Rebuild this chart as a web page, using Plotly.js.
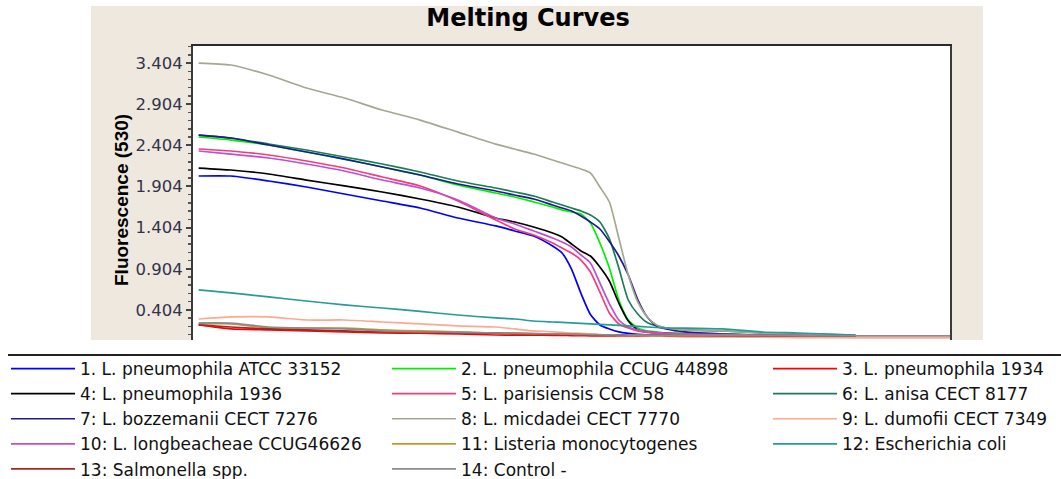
<!DOCTYPE html>
<html>
<head>
<meta charset="utf-8">
<script src="https://cdn.plot.ly/plotly-3.0.1.min.js"></script>
<style>
  html, body { margin: 0; padding: 0; background: #ffffff; }
  #chart { width: 1061px; height: 479px; }
</style>
</head>
<body>
<div id="chart"></div>
<script>
// Temperature steps of the melt (°C); the x axis itself is not labelled.
const temperature = [40.3, 42, 44, 46, 48, 50, 52, 54, 56, 57, 58, 59, 59.5, 60, 60.5, 61, 61.5, 62, 62.5, 63, 63.5, 64, 64.5, 65, 66, 68, 70, 72, 75, 80];

// Fluorescence (530) readings per sample
const pneumophilaATCC33152 = [2.031, 2.031, 1.970, 1.897, 1.812, 1.727, 1.642, 1.521, 1.424, 1.363, 1.302, 1.180, 1.095, 0.900, 0.604, 0.348, 0.221, 0.172, 0.136, 0.118, 0.106, 0.099, 0.099, 0.098, 0.097, 0.095, 0.092, 0.090, 0.087, null];
const pneumophilaCCUG44898 = [2.505, 2.468, 2.408, 2.323, 2.237, 2.140, 2.043, 1.922, 1.824, 1.776, 1.715, 1.654, 1.618, 1.594, 1.569, 1.460, 1.217, 0.913, 0.524, 0.281, 0.184, 0.148, 0.136, 0.123, 0.121, 0.111, 0.099, 0.093, 0.087, null];
const pneumophila1934 = [0.221, 0.172, 0.160, 0.148, 0.136, 0.123, 0.121, 0.111, 0.099, 0.098, 0.097, 0.095, 0.093, 0.092, 0.090, 0.089, 0.088, 0.087, 0.087, 0.086, 0.086, 0.085, 0.085, 0.084, 0.083, 0.082, 0.081, 0.079, 0.075, null];
const pneumophila1936 = [2.128, 2.104, 2.055, 1.982, 1.910, 1.837, 1.752, 1.654, 1.521, 1.472, 1.411, 1.338, 1.290, 1.205, 1.120, 1.059, 0.925, 0.755, 0.487, 0.269, 0.160, 0.136, 0.123, 0.118, 0.111, 0.105, 0.099, 0.095, 0.090, null];
const parisiensisCCM58 = [2.359, 2.335, 2.286, 2.213, 2.128, 2.019, 1.910, 1.727, 1.496, 1.387, 1.314, 1.217, 1.156, 1.095, 1.010, 0.864, 0.620, 0.367, 0.233, 0.184, 0.148, 0.130, 0.120, 0.115, 0.108, 0.102, 0.097, 0.093, 0.088, null];
const anisaCECT8177 = [2.529, 2.493, 2.420, 2.347, 2.262, 2.177, 2.080, 1.970, 1.885, 1.837, 1.788, 1.715, 1.679, 1.642, 1.606, 1.557, 1.472, 1.270, 0.913, 0.524, 0.354, 0.250, 0.209, 0.184, 0.160, 0.148, 0.123, 0.111, 0.099, null];
const bozzemaniiCECT7276 = [2.529, 2.493, 2.408, 2.323, 2.237, 2.140, 2.043, 1.934, 1.849, 1.800, 1.752, 1.679, 1.642, 1.606, 1.545, 1.472, 1.387, 1.235, 1.059, 0.828, 0.530, 0.318, 0.209, 0.172, 0.136, 0.111, 0.099, 0.097, 0.087, null];
const micdadeiCECT7770 = [3.404, 3.380, 3.258, 3.100, 2.979, 2.833, 2.711, 2.565, 2.419, 2.359, 2.298, 2.225, 2.189, 2.153, 2.116, 2.068, 1.897, 1.715, 1.277, 0.828, 0.500, 0.318, 0.221, 0.184, 0.160, 0.148, 0.123, 0.111, 0.099, null];
const dumofiiCECT7349 = [0.293, 0.318, 0.318, 0.281, 0.281, 0.257, 0.233, 0.209, 0.196, 0.172, 0.148, 0.136, 0.130, 0.123, 0.118, 0.111, 0.105, 0.099, 0.095, 0.092, 0.090, 0.087, 0.085, 0.083, 0.078, 0.075, 0.072, 0.068, 0.063, 0.063];
const longbeacheaeCCUG46626 = [2.335, 2.298, 2.250, 2.177, 2.092, 1.982, 1.885, 1.740, 1.521, 1.448, 1.363, 1.278, 1.229, 1.168, 1.071, 0.974, 0.731, 0.480, 0.281, 0.196, 0.160, 0.140, 0.128, 0.120, 0.112, 0.104, 0.098, 0.094, 0.089, null];
const listeriaMonocytogenes = [0.233, 0.233, 0.184, 0.184, 0.182, 0.160, 0.148, 0.136, 0.123, 0.121, 0.115, 0.111, 0.110, 0.108, 0.106, 0.104, 0.102, 0.100, 0.099, 0.098, 0.097, 0.096, 0.095, 0.094, 0.093, 0.092, 0.091, 0.090, 0.087, null];
const escherichiaColi = [0.646, 0.610, 0.561, 0.512, 0.464, 0.427, 0.385, 0.342, 0.306, 0.293, 0.269, 0.257, 0.251, 0.245, 0.239, 0.233, 0.227, 0.221, 0.215, 0.209, 0.203, 0.196, 0.190, 0.184, 0.183, 0.172, 0.136, 0.123, 0.099, null];
const salmonellaSpp = [0.221, 0.196, 0.172, 0.160, 0.148, 0.136, 0.134, 0.123, 0.122, 0.115, 0.111, 0.108, 0.106, 0.104, 0.102, 0.100, 0.099, 0.098, 0.097, 0.096, 0.095, 0.094, 0.093, 0.092, 0.090, 0.089, 0.088, 0.087, 0.086, null];
const negativeControl = [0.245, 0.244, 0.196, 0.184, 0.172, 0.148, 0.136, 0.134, 0.123, 0.120, 0.116, 0.112, 0.110, 0.108, 0.106, 0.104, 0.102, 0.100, 0.099, 0.098, 0.097, 0.096, 0.095, 0.094, 0.093, 0.092, 0.091, 0.089, 0.087, 0.087];

const seriesValues = [
  pneumophilaATCC33152, pneumophilaCCUG44898, pneumophila1934,
  pneumophila1936, parisiensisCCM58, anisaCECT8177,
  bozzemaniiCECT7276, micdadeiCECT7770, dumofiiCECT7349,
  longbeacheaeCCUG46626, listeriaMonocytogenes, escherichiaColi,
  salmonellaSpp, negativeControl
];

const seriesNames = [
  '1. L. pneumophila ATCC 33152', '2. L. pneumophila CCUG 44898', '3. L. pneumophila 1934',
  '4: L. pneumophila 1936', '5: L. parisiensis CCM 58', '6: L. anisa CECT 8177',
  '7: L. bozzemanii CECT 7276', '8: L. micdadei CECT 7770', '9: L. dumofii CECT 7349',
  '10: L. longbeacheae CCUG46626', '11: Listeria monocytogenes', '12: Escherichia coli',
  '13: Salmonella spp.', '14: Control -'
];

const seriesColors = [
  '#0000ff', '#00ee00', '#ff0000',
  '#000000', '#f03c80', '#1e7a5a',
  '#1c1c8c', '#a3a892', '#ffa890',
  '#c050c8', '#d0902a', '#279a9a',
  '#a02a2a', '#8c8c8c'
];

const yTicks = [0.404, 0.904, 1.404, 1.904, 2.404, 2.904, 3.404];
const yTitle = 'Fluorescence (530)';

// Plot box in page pixels, used to place the frame decorations
const W = 1061, H = 479;
const box = { l: 193, r: 950, t: 46, b: 340 };
const px2paperX = px => (px - box.l) / (box.r - box.l);
const px2paperY = py => (box.b - py) / (box.b - box.t);

const legendIds = ['legend', 'legend2', 'legend3'];

const traces = seriesValues.map((vals, i) => ({
  type: 'scatter',
  mode: 'lines',
  x: temperature,
  y: vals,
  name: seriesNames[i],
  legend: legendIds[i % 3],
  line: { color: seriesColors[i], width: 1.7, shape: 'spline', smoothing: 0.6 },
  hoverinfo: 'skip'
}));

const legendFont = { family: 'DejaVu Sans', size: 17, color: '#111111' };
function legendAt(px) {
  return {
    orientation: 'v',
    xref: 'container', yref: 'container',
    x: px / W, y: 1 - 351 / H,
    xanchor: 'left', yanchor: 'top',
    bgcolor: 'rgba(0,0,0,0)',
    borderwidth: 0,
    itemwidth: 64,
    tracegroupgap: 0,
    font: legendFont
  };
}

const layout = {
  width: W,
  height: H,
  margin: { l: box.l, r: W - box.r, t: box.t, b: H - box.b, pad: 0, autoexpand: false },
  paper_bgcolor: '#ffffff',
  plot_bgcolor: '#ffffff',
  showlegend: true,
  title: {
    text: 'Melting Curves',
    font: { family: 'DejaVu Sans', size: 24, weight: 'bold', color: '#000000' },
    xref: 'container', yref: 'container',
    x: 528 / W, y: 1 - 18 / H,
    xanchor: 'center', yanchor: 'middle'
  },
  xaxis: {
    range: [40, 80],
    side: 'top',
    showline: true, linecolor: '#2a2a2a', linewidth: 2,
    showticklabels: false, ticks: '',
    showgrid: false, zeroline: false, fixedrange: true
  },
  yaxis: {
    range: [0.038, 3.611],
    tickvals: yTicks,
    tickformat: '.3f',
    ticks: 'outside', ticklen: 5, tickwidth: 2, tickcolor: '#444444',
    minor: { tick0: 0.404, dtick: 0.1, ticks: 'outside', ticklen: 3, tickwidth: 1.5, tickcolor: '#555555', showgrid: false },
    tickfont: { family: 'DejaVu Sans', size: 16.5, color: '#33334a' },
    showline: true, linecolor: '#3a3a3a', linewidth: 2, mirror: true,
    showgrid: false, zeroline: false, fixedrange: true
  },
  annotations: [
    // rotated y-axis caption
    { text: yTitle, xref: 'paper', yref: 'paper',
      x: px2paperX(121), y: px2paperY(200),
      xanchor: 'center', yanchor: 'middle', textangle: -90, showarrow: false,
      font: { family: 'Liberation Sans', size: 19, weight: 'bold', color: '#000000' } }
  ],
  legend: legendAt(6),
  legend2: legendAt(387),
  legend3: legendAt(768),
  shapes: [
    // beige panel behind the chart
    { type: 'rect', xref: 'paper', yref: 'paper', layer: 'below',
      x0: px2paperX(91), x1: px2paperX(983), y0: px2paperY(340), y1: px2paperY(6),
      fillcolor: '#eee8df', line: { width: 0 } },
    // white plotting area
    { type: 'rect', xref: 'paper', yref: 'paper', layer: 'below',
      x0: 0, x1: 1, y0: 0, y1: 1,
      fillcolor: '#ffffff', line: { width: 0 } },
    // rule above the legend
    { type: 'line', xref: 'paper', yref: 'paper',
      x0: px2paperX(8), x1: px2paperX(W), y0: px2paperY(355), y1: px2paperY(355),
      line: { color: '#222222', width: 2 } }
  ]
};

Plotly.newPlot('chart', traces, layout, { displayModeBar: false, staticPlot: true });
</script>
</body>
</html>
